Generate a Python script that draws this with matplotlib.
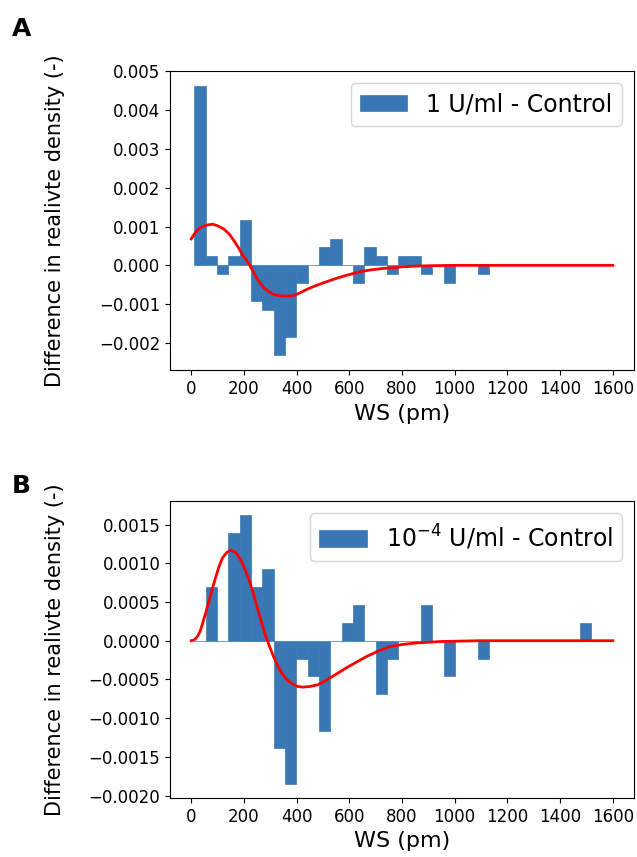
import numpy as np
import matplotlib
matplotlib.use("Agg")
import matplotlib.pyplot as plt

# histogram bins (left edges, pm)
bin_left = [12, 55, 98, 141, 184, 227, 270, 313, 356, 399, 442, 485, 528,
            571, 614, 657, 700, 743, 786, 829, 872, 915, 958, 1001, 1044,
            1087, 1130, 1173, 1216, 1259, 1302, 1345, 1388, 1431, 1474,
            1517, 1560]
bin_width = 43

# panel A: 1 U/ml - Control
diff_a = [0.00462, 0.00023, -0.00023, 0.00023, 0.00116, -0.00092, -0.00116,
          -0.00231, -0.00185, -0.00046, 0.0, 0.00046, 0.00069, 0.0, -0.00046,
          0.00046, 0.00023, -0.00023, 0.00023, 0.00023, -0.00023, 0.0,
          -0.00046, 0.0, 0.0, -0.00023, 0, 0, 0, 0, 0, 0, 0, 0, 0, 0, 0]
fit_a_x = [0, 15, 31, 55, 81, 100, 125, 145, 163, 180, 194, 208, 220, 232,
           245, 260, 276, 295, 314, 333, 351, 370, 389, 412, 439, 470, 502,
           540, 577, 615, 652, 690, 728, 764, 800, 850, 900, 1000, 1200,
           1400, 1600]
fit_a_y = [0.00068, 0.00084, 0.00095, 0.00103, 0.00106, 0.00102, 0.00093,
           0.0008, 0.00063, 0.00045, 0.00028, 0.00015, 0.00003, -0.00012,
           -0.00028, -0.00044, -0.00058, -0.00068, -0.00075, -0.00078,
           -0.00079, -0.00079, -0.00078, -0.00071, -0.00062, -0.00053,
           -0.00045, -0.00036, -0.00028, -0.00021, -0.00015, -0.00011,
           -0.00008, -0.00006, -0.00004, -0.00002, -0.00001, 0.0, 0.0, 0.0,
           0.0]

# panel B: 10^-4 U/ml - Control
diff_b = [0.0, 0.00069, 0.0, 0.00139, 0.00162, 0.00069, 0.00092, -0.00139,
          -0.00185, -0.00023, -0.00046, -0.00116, 0.0, 0.00023, 0.00046, 0.0,
          -0.00069, -0.00023, 0.0, 0.0, 0.00046, 0.0, -0.00046, 0.0, 0.0,
          -0.00023, 0, 0, 0, 0, 0, 0, 0, 0, 0.00023, 0, 0]
fit_b_x = [0, 12, 25, 35, 44, 56, 69, 82, 94, 106, 119, 135, 150, 165, 176,
           187, 203, 219, 235, 250, 265, 281, 297, 312, 328, 344, 362, 381,
           403, 425, 452, 481, 518, 556, 594, 631, 668, 706, 750, 800, 850,
           950, 1100, 1300, 1600]
fit_b_y = [0.0, 0.00001, 0.00006, 0.00013, 0.00023, 0.00037, 0.00053,
           0.00069, 0.00083, 0.00096, 0.00107, 0.00114, 0.00117, 0.00115,
           0.00111, 0.00105, 0.00093, 0.00079, 0.00062, 0.00044, 0.00026,
           0.00008, -0.00007, -0.0002, -0.00032, -0.00042, -0.0005, -0.00055,
           -0.00059, -0.0006, -0.00059, -0.00057, -0.0005, -0.00042,
           -0.00034, -0.00027, -0.0002, -0.00014, -0.00008, -0.00005,
           -0.00003, -0.00001, 0.0, 0.0, 0.0]

bar_color = "#3a78b5"

fig = plt.figure(figsize=(6.37, 8.57), dpi=100)
ax_a = fig.add_axes([0.267, 0.568, 0.728, 0.349])
ax_b = fig.add_axes([0.267, 0.069, 0.728, 0.346])

panels = [
    (ax_a, diff_a, fit_a_x, fit_a_y, "1 U/ml - Control", (-0.0027, 0.0050)),
    (ax_b, diff_b, fit_b_x, fit_b_y, r"$10^{-4}$ U/ml - Control", (-0.00203, 0.0018)),
]

for ax, diff, fx, fy, lab, ylim in panels:
    ax.bar(bin_left, diff, width=bin_width, align="edge", color=bar_color,
           edgecolor=bar_color, linewidth=0.5, label=lab)
    ax.plot(fx, fy, color="red", linewidth=2)
    ax.set_xlim(-80, 1680)
    ax.set_ylim(*ylim)
    ax.set_xticks(np.arange(0, 1601, 200))
    ax.tick_params(labelsize=12)
    ax.set_xlabel("WS (pm)", fontsize=16)
    ax.set_ylabel("Difference in realivte density (-)", fontsize=15)
    ax.yaxis.set_label_coords(-0.226, 0.5)
    ax.legend(loc="upper right", fontsize=17, handlelength=2.0)

ax_a.set_yticks(np.arange(-0.002, 0.0051, 0.001))
ax_a.yaxis.set_major_formatter(matplotlib.ticker.FormatStrFormatter("%.3f"))
ax_b.set_yticks(np.arange(-0.002, 0.00151, 0.0005))
ax_b.yaxis.set_major_formatter(matplotlib.ticker.FormatStrFormatter("%.4f"))

# unicode minus like the default formatter
for ax in (ax_a, ax_b):
    fmt = ax.yaxis.get_major_formatter()
    ax.yaxis.set_major_formatter(matplotlib.ticker.FuncFormatter(
        lambda v, p, f=fmt: f(v, p).replace("-", "\u2212")))

fig.text(0.018, 0.958, "A", fontsize=18, fontweight="bold")
fig.text(0.018, 0.425, "B", fontsize=18, fontweight="bold")

fig.savefig("out.png", dpi=100)
